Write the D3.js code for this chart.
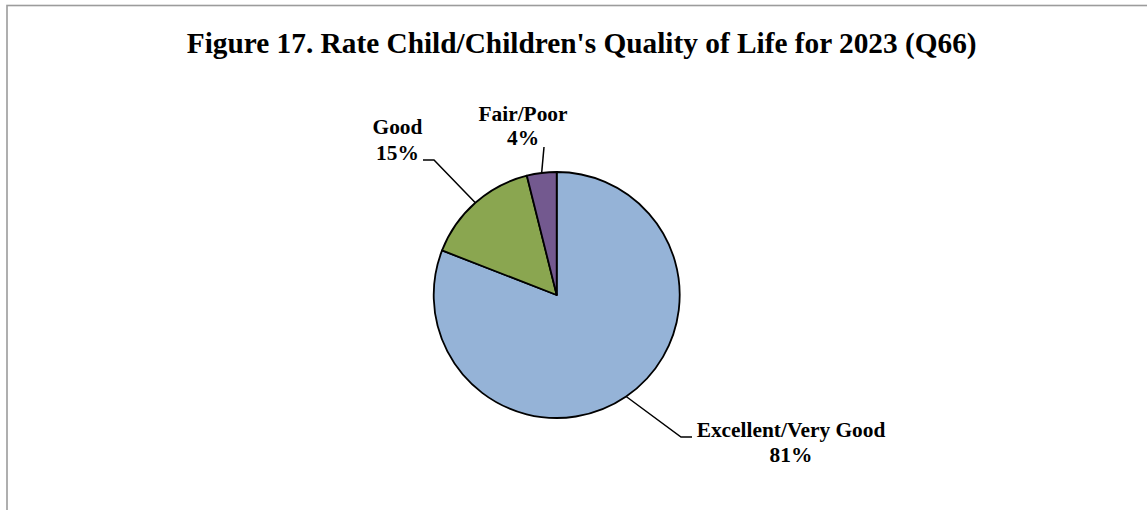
<!DOCTYPE html>
<html>
<head>
<meta charset="utf-8">
<script src="https://cdn.jsdelivr.net/npm/d3@7"></script>
<style>
html, body { margin: 0; padding: 0; background: #fff; }
svg { display: block; }
text { font-family: "Liberation Serif", "Times New Roman", serif; font-weight: bold; fill: #000; }
</style>
</head>
<body>
<svg id="chart" width="1147" height="510"></svg>
<script>
// ---- data ----
const titleText = "Figure 17. Rate Child/Children's Quality of Life for 2023 (Q66)";
const categories = ["Excellent/Very Good", "Good", "Fair/Poor"];
const values = [80.9, 15.2, 3.9];
const colors = ["#95B3D7", "#8AA650", "#73598F"];

// ---- layout (label anchor + elbow positions) ----
const labelLayout = [
  { x: 791, y: 436.7, anchor: "middle", elbow: [681, 437], end: [692, 437], lineGap: 25 },
  { x: 397.5, y: 134.3, anchor: "middle", elbow: [434, 160], end: [423, 160], lineGap: 25.7 },
  { x: 523, y: 120.7, anchor: "middle", elbow: [544, 147], end: [544, 147], lineGap: 24.3 }
];

const svg = d3.select("#chart");

// border
svg.append("rect")
  .attr("x", 7).attr("y", 5.5)
  .attr("width", 1300).attr("height", 700)
  .attr("fill", "none").attr("stroke", "#9c9c9c").attr("stroke-width", 1.6);

// title
const title = svg.append("text")
  .attr("x", 581.7).attr("y", 53.3)
  .attr("text-anchor", "middle")
  .style("font-size", "26px")
  .text(titleText);
const tw = title.node().getComputedTextLength();
title.style("font-size", (26 * 790 / tw).toFixed(2) + "px");

// pie
const cx = 556.7, cy = 295, r = 123;
const data = categories.map((c, i) => ({ cat: c, value: values[i], color: colors[i], layout: labelLayout[i] }));
const pie = d3.pie().sort(null).value(d => d.value);
const arcs = pie(data);
const arc = d3.arc().innerRadius(0).outerRadius(r);

const g = svg.append("g").attr("transform", `translate(${cx},${cy})`);
g.selectAll("path.slice")
  .data(arcs)
  .join("path")
  .attr("class", "slice")
  .attr("d", arc)
  .attr("fill", d => d.data.color)
  .attr("stroke", "#000")
  .attr("stroke-width", 1.8)
  .attr("stroke-linejoin", "round");

// leader lines
const total = d3.sum(values);
arcs.forEach(a => {
  const mid = (a.startAngle + a.endAngle) / 2;
  const px = cx + r * Math.sin(mid);
  const py = cy - r * Math.cos(mid);
  const L = a.data.layout;
  svg.append("polyline")
    .attr("points", [[px, py], L.elbow, L.end].map(p => p.join(",")).join(" "))
    .attr("fill", "none")
    .attr("stroke", "#000")
    .attr("stroke-width", 1.5);
});

// labels
arcs.forEach(a => {
  const L = a.data.layout;
  const t = svg.append("text")
    .attr("x", L.x).attr("y", L.y)
    .attr("text-anchor", L.anchor)
    .style("font-size", "21.4px");
  t.append("tspan").attr("x", L.x).attr("y", L.y).text(a.data.cat);
  t.append("tspan").attr("x", L.x).attr("y", L.y + L.lineGap)
    .text(Math.round(a.data.value / total * 100) + "%");
});
</script>
</body>
</html>
